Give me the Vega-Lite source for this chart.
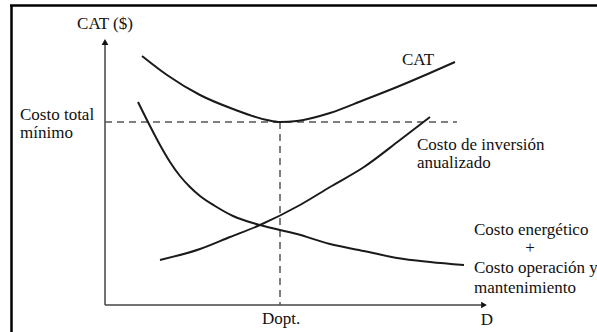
{
  "$schema": "https://vega.github.io/schema/vega-lite/v6.json",
  "width": 597,
  "height": 332,
  "padding": 0,
  "autosize": {"type": "none"},
  "background": "white",
  "config": {"view": {"stroke": null}},
  "encoding": {
    "x": {"field": "x", "type": "quantitative", "scale": {"domain": [-10.5, 49.2], "nice": false, "zero": false}, "axis": null},
    "y": {"field": "y", "type": "quantitative", "scale": {"domain": [-2.7, 30.5], "nice": false, "zero": false}, "axis": null}
  },
  "layer": [
    {
      "data": {"values": [
        {"x": -9.35, "y": 29.95, "x2": -9.35, "y2": -3},
        {"x": -9.5, "y": 29.95, "x2": 49.5, "y2": 29.95}
      ]},
      "mark": {"type": "rule", "color": "black", "strokeWidth": 2.5},
      "encoding": {"x2": {"field": "x2"}, "y2": {"field": "y2"}}
    },
    {
      "data": {"values": [
        {"x": 0, "y": 0, "x2": 0, "y2": 26.2},
        {"x": 0, "y": 0, "x2": 37.6, "y2": 0}
      ]},
      "mark": {"type": "rule", "color": "#444", "strokeWidth": 1.5},
      "encoding": {"x2": {"field": "x2"}, "y2": {"field": "y2"}}
    },
    {
      "data": {"values": [
        {"x": 0, "y": 26.3, "dir": "up"},
        {"x": 37.9, "y": 0, "dir": "right"}
      ]},
      "mark": {"type": "point", "filled": true, "color": "#111", "opacity": 1, "size": 45},
      "encoding": {"shape": {"field": "dir", "type": "nominal", "scale": {"domain": ["up", "right"], "range": ["triangle-up", "triangle-right"]}, "legend": null}}
    },
    {
      "data": {"values": [
        {"x": 0, "y": 18.3, "x2": 35.2, "y2": 18.3},
        {"x": 17.5, "y": 18.3, "x2": 17.5, "y2": 0}
      ]},
      "mark": {"type": "rule", "color": "#555", "strokeWidth": 1.5, "strokeDash": [7, 5]},
      "encoding": {"x2": {"field": "x2"}, "y2": {"field": "y2"}}
    },
    {
      "data": {"values": [
        {"series": "CAT", "x": 3.7, "y": 24.9},
        {"series": "CAT", "x": 6.2, "y": 23.0},
        {"series": "CAT", "x": 9.5, "y": 21.0},
        {"series": "CAT", "x": 12.8, "y": 19.6},
        {"series": "CAT", "x": 16.2, "y": 18.5},
        {"series": "CAT", "x": 17.5, "y": 18.3},
        {"series": "CAT", "x": 19.2, "y": 18.4},
        {"series": "CAT", "x": 22.5, "y": 19.2},
        {"series": "CAT", "x": 25.9, "y": 20.5},
        {"series": "CAT", "x": 29.2, "y": 21.8},
        {"series": "CAT", "x": 32.5, "y": 23.2},
        {"series": "CAT", "x": 35.0, "y": 24.3},
        {"series": "Inversion", "x": 5.5, "y": 4.5},
        {"series": "Inversion", "x": 9.5, "y": 5.6},
        {"series": "Inversion", "x": 12.5, "y": 6.8},
        {"series": "Inversion", "x": 15.5, "y": 8.0},
        {"series": "Inversion", "x": 19.5, "y": 10.0},
        {"series": "Inversion", "x": 22.5, "y": 11.8},
        {"series": "Inversion", "x": 25.9, "y": 13.8},
        {"series": "Inversion", "x": 29.5, "y": 16.5},
        {"series": "Inversion", "x": 32.5, "y": 18.8},
        {"series": "Energia", "x": 3.3, "y": 20.3},
        {"series": "Energia", "x": 4.5, "y": 17.9},
        {"series": "Energia", "x": 5.5, "y": 16.0},
        {"series": "Energia", "x": 6.5, "y": 14.3},
        {"series": "Energia", "x": 7.5, "y": 12.9},
        {"series": "Energia", "x": 8.5, "y": 11.8},
        {"series": "Energia", "x": 9.5, "y": 10.9},
        {"series": "Energia", "x": 11.0, "y": 9.9},
        {"series": "Energia", "x": 12.8, "y": 8.9},
        {"series": "Energia", "x": 15.5, "y": 8.0},
        {"series": "Energia", "x": 19.2, "y": 7.1},
        {"series": "Energia", "x": 22.5, "y": 6.1},
        {"series": "Energia", "x": 25.9, "y": 5.4},
        {"series": "Energia", "x": 29.2, "y": 4.7},
        {"series": "Energia", "x": 32.5, "y": 4.3},
        {"series": "Energia", "x": 35.9, "y": 4.0}
      ]},
      "mark": {"type": "line", "color": "#1a1a1a", "strokeWidth": 2, "interpolate": "monotone"},
      "encoding": {"detail": {"field": "series", "type": "nominal"}}
    },
    {
      "data": {"values": [
        {"x": -8.5, "y": 18.5, "label": "Costo total"},
        {"x": -8.5, "y": 16.7, "label": "mínimo"},
        {"x": 29.7, "y": 24.0, "label": "CAT"},
        {"x": 31.2, "y": 15.5, "label": "Costo de inversión"},
        {"x": 31.2, "y": 13.7, "label": "anualizado"},
        {"x": 36.9, "y": 7.0, "label": "Costo energético"},
        {"x": 36.9, "y": 3.2, "label": "Costo operación y"},
        {"x": 36.9, "y": 1.2, "label": "mantenimiento"}
      ]},
      "mark": {"type": "text", "align": "left", "baseline": "alphabetic", "font": "Times New Roman, Liberation Serif, serif", "fontSize": 17, "color": "#111"},
      "encoding": {"text": {"field": "label"}}
    },
    {
      "data": {"values": [
        {"x": 0, "y": 27.6, "label": "CAT ($)"},
        {"x": 42.5, "y": 5.2, "label": "+"},
        {"x": 17.6, "y": -1.9, "label": "Dopt."},
        {"x": 38.2, "y": -2.0, "label": "D"}
      ]},
      "mark": {"type": "text", "align": "center", "baseline": "alphabetic", "font": "Times New Roman, Liberation Serif, serif", "fontSize": 17, "color": "#111"},
      "encoding": {"text": {"field": "label"}}
    }
  ]
}
